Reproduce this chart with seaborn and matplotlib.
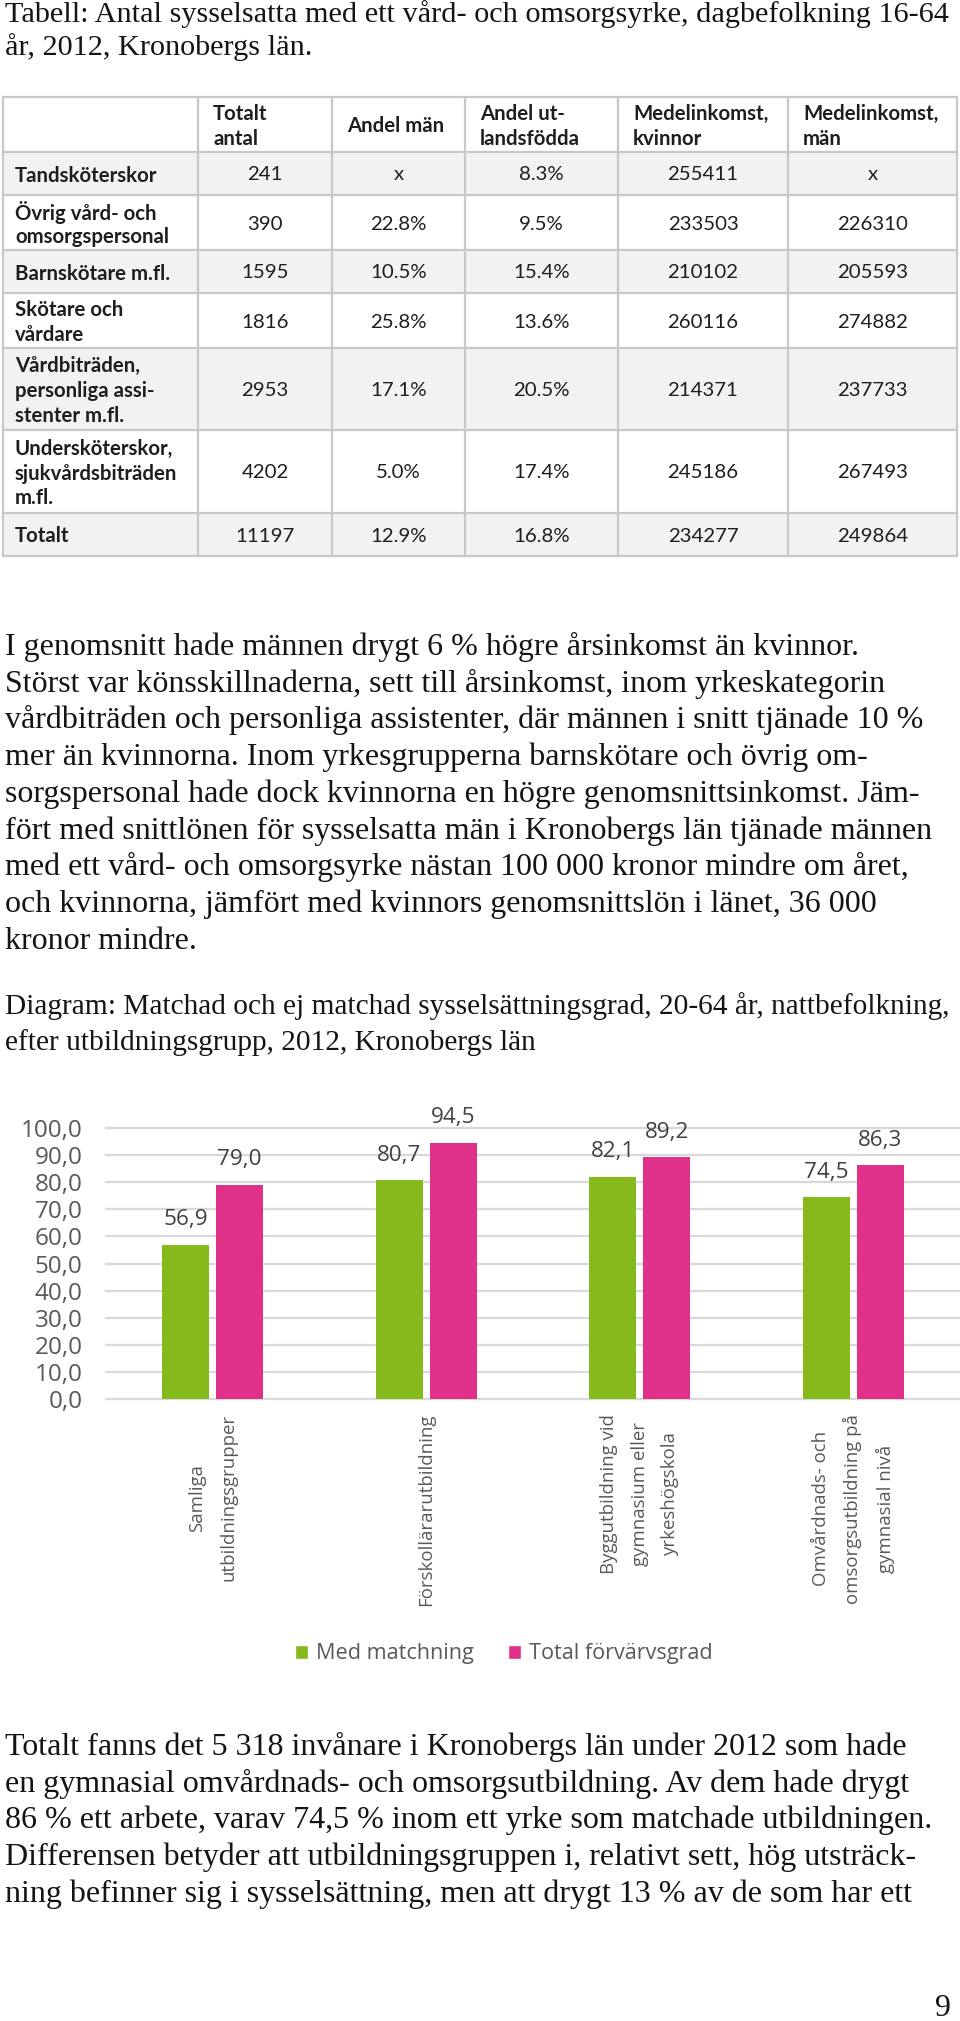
import matplotlib
matplotlib.use("Agg")
import matplotlib.pyplot as plt
from matplotlib.patches import Rectangle, Patch
import seaborn as sns
import pandas as pd

# ---------------- data ----------------
table_title = ["Tabell: Antal sysselsatta med ett vård- och omsorgsyrke, dagbefolkning 16-64",
               "år, 2012, Kronobergs län."]
col_headers = ["Totalt\nantal", "Andel män", "Andel ut-\nlandsfödda",
               "Medelinkomst,\nkvinnor", "Medelinkomst,\nmän"]
row_labels = ["Tandsköterskor", "Övrig vård- och\nomsorgspersonal", "Barnskötare m.fl.",
              "Skötare och\nvårdare", "Vårdbiträden,\npersonliga assi-\nstenter m.fl.",
              "Undersköterskor,\nsjukvårdsbiträden\nm.fl.", "Totalt"]
totalt_antal = ["241", "390", "1595", "1816", "2953", "4202", "11197"]
andel_man = ["x", "22.8%", "10.5%", "25.8%", "17.1%", "5.0%", "12.9%"]
andel_utlandsfodda = ["8.3%", "9.5%", "15.4%", "13.6%", "20.5%", "17.4%", "16.8%"]
medelinkomst_kvinnor = ["255411", "233503", "210102", "260116", "214371", "245186", "234277"]
medelinkomst_man = ["x", "226310", "205593", "274882", "237733", "267493", "249864"]

paragraph1 = [
    "I genomsnitt hade männen drygt 6 % högre årsinkomst än kvinnor.",
    "Störst var könsskillnaderna, sett till årsinkomst, inom yrkeskategorin",
    "vårdbiträden och personliga assistenter, där männen i snitt tjänade 10 %",
    "mer än kvinnorna. Inom yrkesgrupperna barnskötare och övrig om-",
    "sorgspersonal hade dock kvinnorna en högre genomsnittsinkomst. Jäm-",
    "fört med snittlönen för sysselsatta män i Kronobergs län tjänade männen",
    "med ett vård- och omsorgsyrke nästan 100 000 kronor mindre om året,",
    "och kvinnorna, jämfört med kvinnors genomsnittslön i länet, 36 000",
    "kronor mindre.",
]
chart_title = ["Diagram: Matchad och ej matchad sysselsättningsgrad, 20-64 år, nattbefolkning,",
               "efter utbildningsgrupp, 2012, Kronobergs län"]
categories = ["Samliga\nutbildningsgrupper", "Förskollärarutbildning",
              "Byggutbildning vid\ngymnasium eller\nyrkeshögskola",
              "Omvårdnads- och\nomsorgsutbildning på\ngymnasial nivå"]
series_names = ["Med matchning", "Total förvärvsgrad"]
med_matchning = [56.9, 80.7, 82.1, 74.5]
total_forvarvsgrad = [79.0, 94.5, 89.2, 86.3]
y_ticks = [0, 10, 20, 30, 40, 50, 60, 70, 80, 90, 100]
paragraph2 = [
    "Totalt fanns det 5 318 invånare i Kronobergs län under 2012 som hade",
    "en gymnasial omvårdnads- och omsorgsutbildning. Av dem hade drygt",
    "86 % ett arbete, varav 74,5 % inom ett yrke som matchade utbildningen.",
    "Differensen betyder att utbildningsgruppen i, relativt sett, hög utsträck-",
    "ning befinner sig i sysselsättning, men att drygt 13 % av de som har ett",
]
page_number = "9"

# ---------------- style ----------------
W, H = 960, 2021
GREEN = "#85b91c"
PINK = "#e0318a"
GRID = "#d9d9d9"
AXTXT = "#595959"
SERIF_FAM = ["Liberation Serif", "DejaVu Serif"]
SERIF = dict(family=SERIF_FAM, size=23, color="#141414")
TITLE = dict(family=SERIF_FAM, size=21.8, color="#141414")
HEAD = dict(family=SERIF_FAM, size=21.2, color="#141414")
TBL = ["Lato", "DejaVu Sans"]

sns.set_theme(style="white")
plt.rcParams["font.family"] = ["Open Sans", "DejaVu Sans"]

fig = plt.figure(figsize=(W / 100, H / 100), dpi=100)
fig.patch.set_facecolor("white")

page = fig.add_axes([0, 0, 1, 1])
page.set_xlim(0, W)
page.set_ylim(H, 0)
page.axis("off")
page.patch.set_alpha(0)
page.set_zorder(3)


def text_lines(x, baselines, lines, **kw):
    for y, s in zip(baselines, lines):
        page.text(x, y, s, va="baseline", **kw)


# title
text_lines(5, [22, 55], table_title, **TITLE)

# ---------------- table ----------------
col_x = [3, 198, 332, 465, 618, 788, 957]
row_y = [97, 152, 195, 250, 293, 348, 430, 513, 556]
for i in range(len(row_labels)):
    if i % 2 == 0:
        page.add_patch(Rectangle((col_x[0], row_y[i + 1]), col_x[-1] - col_x[0],
                                 row_y[i + 2] - row_y[i + 1], facecolor="#f2f2f2",
                                 edgecolor="none", zorder=1))
for y in row_y:
    page.plot([col_x[0], col_x[-1]], [y, y], color="#c8c8c8", lw=1.6, zorder=2,
              solid_capstyle="projecting")
for x in col_x:
    page.plot([x, x], [row_y[0], row_y[-1]], color="#c8c8c8", lw=1.6, zorder=2,
              solid_capstyle="projecting")

STEP = 25


def cell(x, yc, txt, ha, weight):
    lines = txt.split("\n")
    n = len(lines)
    for k, s in enumerate(lines):
        page.text(x, yc + (k - (n - 1) / 2) * STEP, s, ha=ha, va="center_baseline",
                  family=TBL, size=14.7, weight=weight, color="#1e1e1e", zorder=4)


hdr_c = (row_y[0] + row_y[1]) / 2
for j, h in enumerate(col_headers):
    cell(col_x[j + 1] + 15, hdr_c, h, "left", "bold")

columns = [totalt_antal, andel_man, andel_utlandsfodda, medelinkomst_kvinnor, medelinkomst_man]
for i, lab in enumerate(row_labels):
    yc = (row_y[i + 1] + row_y[i + 2]) / 2
    cell(col_x[0] + 12, yc, lab, "left", "bold")
    for j, col in enumerate(columns):
        cell((col_x[j + 1] + col_x[j + 2]) / 2, yc, col[i], "center", "normal")

# paragraph 1
text_lines(5, [655 + 36.7 * k for k in range(len(paragraph1))], paragraph1, **SERIF)
# chart heading
text_lines(5, [1014, 1050], chart_title, **HEAD)
# paragraph 2
text_lines(5, [1755 + 36.7 * k for k in range(len(paragraph2))], paragraph2, **SERIF)
page.text(951, 2016, page_number, ha="right", va="baseline", **SERIF)

# ---------------- chart ----------------
ax = fig.add_axes([106 / W, 1 - 1399 / H, (960 - 106) / W, (1399 - 1128) / H])
df = pd.DataFrame({
    "Utbildning": categories * 2,
    "Serie": [series_names[0]] * len(categories) + [series_names[1]] * len(categories),
    "Värde": med_matchning + total_forvarvsgrad,
})
sns.barplot(data=df, x="Utbildning", y="Värde", hue="Serie", hue_order=series_names,
            order=categories, palette=[GREEN, PINK], saturation=1, width=0.505, gap=0.13,
            errorbar=None, legend=False, linewidth=0, ax=ax)
ax.set_xlim(-0.5, len(categories) - 0.5)
ax.set_ylim(0, 100)
ax.set_yticks(y_ticks)
ax.set_yticklabels([f"{v:.1f}".replace(".", ",") for v in y_ticks])
ax.yaxis.grid(True, color=GRID, lw=1.6)
ax.xaxis.grid(False)
ax.set_axisbelow(True)
for gl in ax.get_ygridlines():
    gl.set_clip_on(False)
for s in ax.spines.values():
    s.set_visible(False)
ax.set_xlabel("")
ax.set_ylabel("")
ax.tick_params(axis="y", length=0, pad=17, labelsize=17.5, labelcolor=AXTXT)
ax.tick_params(axis="x", length=0, pad=10.8, labelsize=13.4, labelcolor=AXTXT)
ax.set_xticks(range(len(categories)))
ax.set_xticklabels(categories, rotation=90, linespacing=1.9, ha="center", va="top")
ax.patch.set_alpha(0)

for cont, vals in zip(ax.containers, [med_matchning, total_forvarvsgrad]):
    ax.bar_label(cont, labels=[f"{v:.1f}".replace(".", ",") for v in vals],
                 padding=10.5, fontsize=16.2, color="#404040")

handles = [Patch(facecolor=GREEN, label=series_names[0]),
           Patch(facecolor=PINK, label=series_names[1])]
fig.legend(handles=handles, loc="center", bbox_to_anchor=(504 / W, 1 - 1654 / H), ncol=2,
           frameon=False, fontsize=15.6, handlelength=0.6, handleheight=0.6,
           handletextpad=0.37, columnspacing=1.6, labelcolor=AXTXT, borderaxespad=0)

fig.savefig("out.png", dpi=100, facecolor="white")
